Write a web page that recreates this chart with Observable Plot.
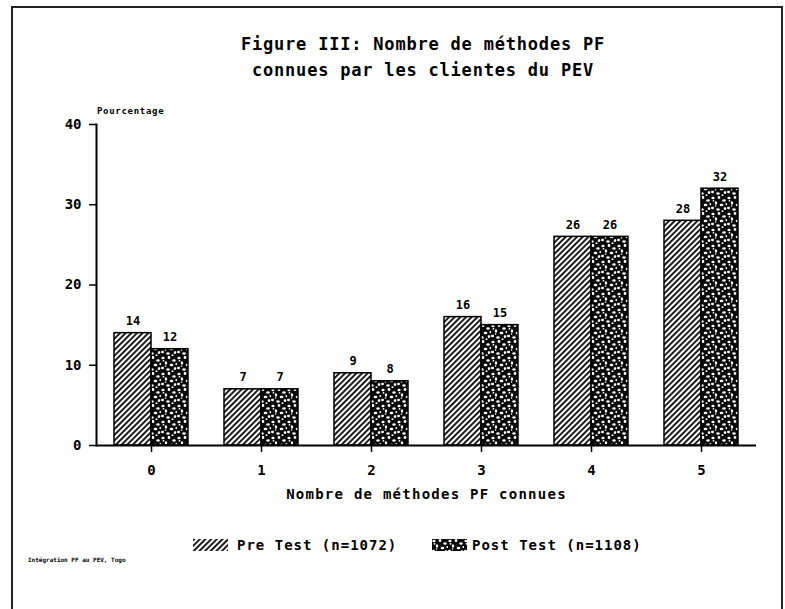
<!DOCTYPE html>
<html><head><meta charset="utf-8">
<script src="https://cdn.jsdelivr.net/npm/d3@7"></script>
<script src="https://cdn.jsdelivr.net/npm/@observablehq/plot@0.6"></script>
<style>
body{margin:0;background:#fff;}
#page{position:relative;width:785px;height:609px;overflow:hidden;font-family:"DejaVu Sans Mono",monospace;color:#000;background:#fff;}
#border{position:absolute;left:11px;top:6px;width:772px;height:620px;border:2px solid #222;box-sizing:border-box;}
#title{position:absolute;top:31px;left:123px;width:600px;text-align:center;font-size:17px;font-weight:bold;line-height:26px;letter-spacing:0.8px;}
#ylabel{position:absolute;left:97px;top:106px;font-size:9px;font-weight:bold;letter-spacing:0.7px;}
#chart{position:absolute;left:0;top:100px;}
#legend{position:absolute;top:538px;left:0;width:785px;font-size:14px;font-weight:bold;letter-spacing:1px;}
.item{position:absolute;top:0;height:14px;line-height:14px;white-space:nowrap;}
.sw{position:absolute;top:1px;width:35px;height:12px;}
#caption{position:absolute;left:28px;top:556px;font-size:6px;font-weight:bold;}
</style></head>
<body>
<div id="page">
  <div id="border"></div>
  <div id="title"></div>
  <div id="ylabel"></div>
  <div id="chart"></div>
  <div id="legend"></div>
  <div id="caption"></div>
</div>
<script>
const titleLines = ["Figure III: Nombre de méthodes PF", "connues par les clientes du PEV"];
const yLabel = "Pourcentage";
const xLabel = "Nombre de méthodes PF connues";
const categories = ["0", "1", "2", "3", "4", "5"];
const series = ["Pre Test (n=1072)", "Post Test (n=1108)"];
const preValues = [14, 7, 9, 16, 26, 28];
const postValues = [12, 7, 8, 15, 26, 32];
const yTicks = [0, 10, 20, 30, 40];
const captionText = "Intégration PF au PEV, Togo";

const rows = categories.flatMap((c, i) => [
  {cat: c, serie: series[0], value: preValues[i]},
  {cat: c, serie: series[1], value: postValues[i]}
]);

document.getElementById("title").innerHTML = titleLines.join("<br>");
document.getElementById("ylabel").textContent = yLabel;
document.getElementById("caption").textContent = captionText;

const chart = Plot.plot({
  width: 785,
  height: 420,
  marginLeft: 95,
  marginRight: 29,
  marginTop: 24,
  marginBottom: 75,
  style: {fontFamily: "DejaVu Sans Mono", fontWeight: "bold", fontSize: "14px", color: "#000", background: "transparent"},
  fx: {domain: categories, padding: 0},
  x: {domain: series, paddingInner: 0, paddingOuter: 0.486, axis: null},
  y: {domain: [0, 40]},
  marks: [
    Plot.barY(rows.filter(d => d.serie === series[0]), {fx: "cat", x: "serie", y: "value", fill: "url(#hatch)", stroke: "#000", strokeWidth: 1.5}),
    Plot.barY(rows.filter(d => d.serie === series[1]), {fx: "cat", x: "serie", y: "value", fill: "url(#speckle)", stroke: "#000", strokeWidth: 1.5}),
    Plot.text(rows, {fx: "cat", x: "serie", y: "value", text: d => String(d.value), dy: -12, fontSize: 12, fontWeight: "bold", style: "letter-spacing:1.5px"}),
    Plot.ruleY([0], {strokeWidth: 2}),
    Plot.frame({anchor: "left", facetAnchor: "left", strokeWidth: 2}),
    Plot.axisY({ticks: yTicks, tickSize: 7, tickPadding: 8, tickFormat: d => String(d), label: null, strokeWidth: 1.5, fontSize: 14, facetAnchor: "left"}),
    Plot.axisFx({anchor: "bottom", tickSize: 7, tickPadding: 13, strokeWidth: 1.5, fontSize: 14, label: xLabel, labelAnchor: "center", labelOffset: 53})
  ]
});

// Pattern definitions (fills)
const svg = d3.select(chart.tagName.toLowerCase() === "svg" ? chart : chart.querySelector("svg"));
svg.selectAll("text").filter(function() { return this.textContent === xLabel; }).style("letter-spacing", "1.25px");
const defs = svg.insert("defs", ":first-child");
const hatch = defs.append("pattern").attr("id", "hatch").attr("patternUnits", "userSpaceOnUse")
  .attr("width", 4).attr("height", 4).attr("patternTransform", "rotate(45)");
hatch.append("rect").attr("width", 4).attr("height", 4).attr("fill", "#fff");
hatch.append("rect").attr("width", 1.9).attr("height", 4).attr("fill", "#111");
const speck = defs.append("pattern").attr("id", "speckle").attr("patternUnits", "userSpaceOnUse")
  .attr("width", 16).attr("height", 16);
speck.append("rect").attr("width", 16).attr("height", 16).attr("fill", "#0a0a0a");
const dots = [[2,2,1.6,1.2],[8,1.5,1.3,1.6],[13,4.5,1.7,1.2],[5,7,1.2,1.7],[10.5,9,1.8,1.3],[1.5,12,1.5,1.2],[7,13.5,1.7,1.2],[14,12.5,1.2,1.6],[2.5,4.8,0.9,0.9],[11.5,15.2,1,1],[15.3,8,1,1.1],[4.5,10,0.8,0.8]];
dots.forEach(([cx, cy, rx, ry]) => speck.append("ellipse").attr("cx", cx).attr("cy", cy).attr("rx", rx).attr("ry", ry).attr("fill", "#fff"));

document.getElementById("chart").appendChild(chart);

// Legend
const legend = document.getElementById("legend");
const items = [
  {label: series[0], fill: "url(#hatch)", sw: 193, tx: 237},
  {label: series[1], fill: "url(#speckle)", sw: 432, tx: 472}
];
items.forEach(it => {
  const s = document.createElementNS("http://www.w3.org/2000/svg", "svg");
  s.setAttribute("width", 35); s.setAttribute("height", 12);
  s.setAttribute("class", "sw");
  s.style.left = it.sw + "px";
  const r = document.createElementNS("http://www.w3.org/2000/svg", "rect");
  r.setAttribute("width", 35); r.setAttribute("height", 12);
  r.setAttribute("fill", it.fill);
  s.appendChild(r);
  legend.appendChild(s);
  const t = document.createElement("div");
  t.className = "item"; t.style.left = it.tx + "px"; t.textContent = it.label;
  legend.appendChild(t);
});
</script>
</body></html>
